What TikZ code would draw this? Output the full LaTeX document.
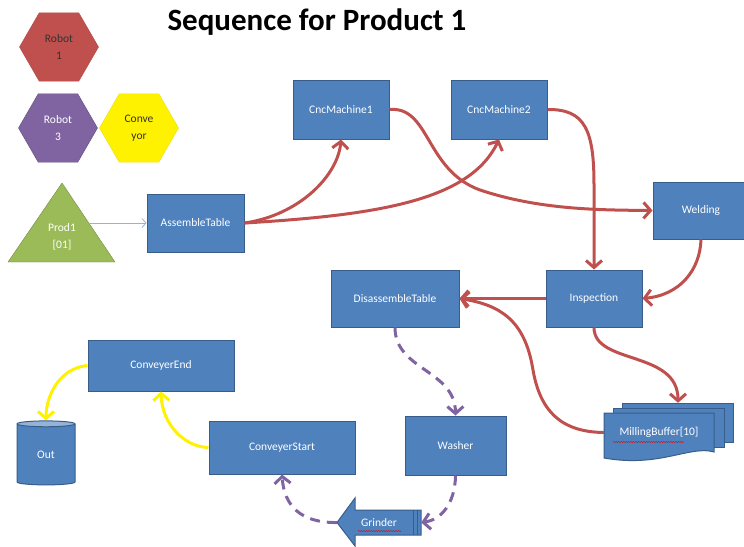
\documentclass[tikz,border=0pt]{standalone}
\usepackage{fontspec}
\setmainfont{Carlito}
\usetikzlibrary{shapes.geometric, arrows.meta, decorations.pathmorphing}

\definecolor{boxblue}{HTML}{4F81BD}
\definecolor{boxedge}{HTML}{385D8A}
\definecolor{flowred}{HTML}{C0504D}
\definecolor{flowpurple}{HTML}{8064A2}
\definecolor{lightblue}{HTML}{8EB4E3}
\definecolor{prodgreen}{HTML}{9BBB59}
\definecolor{outtop}{HTML}{95B3D7}

\begin{document}
\begin{tikzpicture}[
  x=1pt, y=-1pt,
  every node/.style={font=\fontsize{11.5}{17}\selectfont, inner sep=1pt},
  box/.style={rectangle, fill=boxblue, draw=boxedge, line width=1pt, text=white},
  hexa/.style={regular polygon, regular polygon sides=6, minimum size=79pt, inner sep=0pt, align=center},
  redflow/.style={->, draw=flowred, line width=3pt},
  purpleflow/.style={->, draw=flowpurple, line width=3pt, dash pattern=on 10pt off 7pt},
  yellowflow/.style={->, draw=yellow, line width=3pt},
  squiggle/.style={red!85!black, line width=0.4pt, decorate, decoration={snake, amplitude=0.5pt, segment length=2.5pt}},
  >={Straight Barb[length=7pt, width=16pt]}
]
  \useasboundingbox (0,0) rectangle (744,546);

  % Title
  \node[font=\fontsize{31}{36}\selectfont\bfseries] (title) at (317,22) {Sequence for Product 1};

  % Legend
  \node[hexa, fill=flowred, draw=flowred!90!black, text=black!80] (robot1) at (59,47) {Robot\\1};
  \node[hexa, fill=flowpurple, draw=flowpurple!75!black, text=white] (robot3) at (58,128) {Robot\\3};
  \node[hexa, fill=yellow, draw=yellow!90!black, text=black!80] (conveyor) at (139,128) {Conve\\yor};

  % Product
  \filldraw[fill=prodgreen, draw=prodgreen!75!black] (62,183) -- (115,262) -- (8,262) -- cycle;
  \node[text=white, align=center] (prod) at (62,237) {Prod1\\{[01]}};
  \coordinate (prodtip) at (89,223);

  % Stations
  \node[box, minimum width=97pt, minimum height=58pt] (assemble) at (195.5,223) {AssembleTable};
  \node[box, minimum width=96pt, minimum height=59pt] (cnc1) at (341,109.5) {CncMachine1};
  \node[box, minimum width=96pt, minimum height=59pt] (cnc2) at (499,109.5) {CncMachine2};
  \node[box, minimum width=96pt, minimum height=57pt] (welding) at (701,210.5) {Welding};
  \node[box, minimum width=96pt, minimum height=57pt] (inspection) at (594,298.5) {Inspection};
  \node[box, minimum width=128pt, minimum height=57pt] (disassemble) at (395,298.5) {DisassembleTable};
  \node[box, minimum width=101pt, minimum height=59pt] (washer) at (455.5,445.5) {Washer};
  \node[box, minimum width=146pt, minimum height=53pt] (convstart) at (282,447.5) {ConveyerStart};
  \node[box, minimum width=146pt, minimum height=51pt] (convend) at (161,365.5) {ConveyerEnd};

  % Buffer (stacked documents)
  \filldraw[fill=boxblue, draw=boxedge, line width=1pt] (622,403) rectangle (733,442);
  \filldraw[fill=boxblue, draw=boxedge, line width=1pt] (613,408) rectangle (724,447);
  \filldraw[fill=boxblue, draw=boxedge, line width=1pt] (604,413) -- (714,413) -- (714,452)
    .. controls (690,445) and (660,468) .. (604,458) -- cycle;
  \node[text=white, minimum width=110pt, minimum height=39pt] (buffer) at (659,432.5) {MillingBuffer[10]};
  \draw[squiggle] (613,442) -- (684,442);

  % Grinder
  \filldraw[fill=boxblue, draw=boxedge, line width=1pt] (421,510) -- (355,510) -- (355,498) -- (337,522.5)
    -- (355,546) -- (355,535) -- (421,535) -- cycle;
  \draw[boxedge, line width=0.8pt] (413,510) -- (413,535) (417,510) -- (417,535);
  \node[text=white, minimum width=84pt, minimum height=25pt, inner sep=0pt] (grinder) at (379,522.5) {Grinder};
  \draw[squiggle] (358,531) -- (401,531);

  % Out
  \node[cylinder, shape border rotate=90, aspect=0.3, minimum width=58pt, minimum height=64pt,
    cylinder uses custom fill, cylinder body fill=boxblue, cylinder end fill=outtop,
    draw=boxedge, line width=1pt, text=white] (out) at (46,455) {Out};

  % Flows
  \draw[->, lightblue, line width=0.8pt, >={Straight Barb[length=4pt, width=9pt]}] (prodtip) -- (assemble.west);
  \draw[redflow] (assemble.east) .. controls (300,215) and (338,175) .. (cnc1.south);
  \draw[redflow] (assemble.east) .. controls (380,215) and (470,200) .. (cnc2.south);
  \draw[redflow] (cnc1.east) .. controls (430,106) and (425,170) .. (480,190)
    .. controls (540,210) and (600,210) .. (welding.west);
  \draw[redflow] (cnc2.east) .. controls (585,109) and (594,130) .. (594,185) -- (inspection.north);
  \draw[redflow] (welding.south) .. controls (700,270) and (680,295) .. (inspection.east);
  \draw[redflow] (inspection.west) -- (disassemble.east);
  \draw[redflow] (inspection.south) .. controls (594,365) and (678,350) .. ([xshift=19pt, yshift=10pt]buffer.north);
  \draw[redflow] (buffer.west) .. controls (560,432) and (540,410) .. (533,370)
    .. controls (525,320) and (500,305) .. (disassemble.east);

  \draw[purpleflow] (disassemble.south) .. controls (395,370) and (455,370) .. (washer.north);
  \draw[purpleflow] (washer.south) .. controls (455,505) and (440,520) .. (grinder.east);
  \draw[purpleflow] (grinder.west) .. controls (300,523) and (284,505) .. (convstart.south);

  \draw[yellowflow] (convstart.west) .. controls (185,447) and (162,425) .. (convend.south);
  \draw[yellowflow] (convend.west) .. controls (60,368) and (46,395) .. (out.north);
\end{tikzpicture}
\end{document}
